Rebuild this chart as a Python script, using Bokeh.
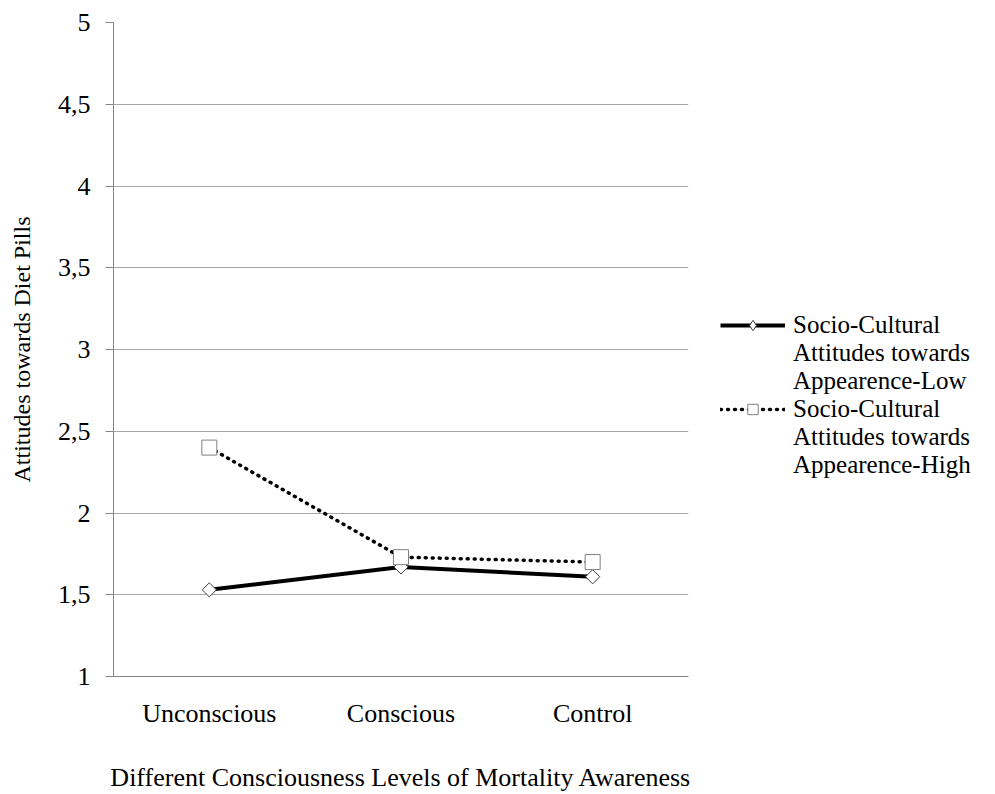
import math
from bokeh.plotting import figure
from bokeh.layouts import row
from bokeh.models import (FixedTicker, Legend, LegendItem, ColumnDataSource,
                          Range1d, FactorRange)
from bokeh.embed import file_html
from bokeh.resources import INLINE

categories = ["Unconscious", "Conscious", "Control"]
low_values = [1.53, 1.67, 1.61]
high_values = [2.40, 1.73, 1.70]
y_ticks = [1, 1.5, 2, 2.5, 3, 3.5, 4, 4.5, 5]
y_tick_labels = ["1", "1,5", "2", "2,5", "3", "3,5", "4", "4,5", "5"]
low_label_lines = ["Socio-Cultural", "Attitudes towards", "Appearence-Low"]
high_label_lines = ["Socio-Cultural", "Attitudes towards", "Appearence-High"]
x_title = "Different Consciousness Levels of Mortality Awareness"
y_title = "Attitudes towards Diet Pills"

FONT = "Liberation Serif"
FS = "26px"
AXIS_GRAY = "#868686"
GRID_GRAY = "#A6A6A6"

src = ColumnDataSource(dict(cat=categories, low=low_values, high=high_values))

# ---------------- main chart ----------------
p = figure(x_range=FactorRange(*categories), y_range=Range1d(1, 5),
           width=700, height=794, output_backend="svg", toolbar_location=None,
           min_border_left=113, min_border_right=12,
           min_border_top=22, min_border_bottom=118)
p.outline_line_color = None
p.xgrid.grid_line_color = None
p.ygrid.grid_line_color = GRID_GRAY
p.ygrid.grid_line_width = 1

yax = p.yaxis[0]
yax.ticker = FixedTicker(ticks=y_ticks)
yax.major_label_overrides = dict(zip(y_ticks, y_tick_labels))
yax.minor_tick_line_color = None
yax.major_tick_out = 8
yax.major_tick_in = 0
yax.major_tick_line_color = AXIS_GRAY
yax.axis_line_color = AXIS_GRAY
yax.major_label_standoff = 15
yax.major_label_text_font = FONT
yax.major_label_text_font_size = FS
yax.major_label_text_color = "black"
yax.axis_label = y_title
yax.axis_label_text_font = FONT
yax.axis_label_text_font_size = "24px"
yax.axis_label_text_font_style = "normal"
yax.axis_label_text_color = "black"
yax.axis_label_standoff = 20

xax = p.xaxis[0]
xax.major_tick_line_color = None
xax.major_tick_out = 0
xax.major_tick_in = 0
xax.axis_line_color = AXIS_GRAY
xax.major_label_standoff = 22
xax.major_label_text_font = FONT
xax.major_label_text_font_size = FS
xax.major_label_text_color = "black"
xax.axis_label = x_title
xax.axis_label_text_font = FONT
xax.axis_label_text_font_size = FS
xax.axis_label_text_font_style = "normal"
xax.axis_label_text_color = "black"
xax.axis_label_standoff = 32

low_style = dict(line_color="black", line_width=4)
high_style = dict(line_color="black", line_width=3.5, line_dash="1 6", line_cap="round")

p.line(x="cat", y="low", source=src, **low_style)
p.scatter(x="cat", y="low", source=src, marker="square", angle=math.pi / 4,
          size=10, fill_color="white", line_color="#404040", line_width=1)
p.line(x="cat", y="high", source=src, **high_style)
p.scatter(x="cat", y="high", source=src, marker="square",
          size=15, fill_color="white", line_color="#808080", line_width=1)

# ---------------- legend panel (to the right of the chart) ----------------
lp = figure(x_range=FactorRange(*categories), y_range=Range1d(10, 11),
            width=295, height=794, output_backend="svg", toolbar_location=None,
            min_border=0, x_axis_location=None, y_axis_location=None)
lp.outline_line_color = None
lp.grid.grid_line_color = None

l_line = lp.line(x="cat", y="low", source=src, **low_style)
l_pts = lp.scatter(x="cat", y="low", source=src, marker="diamond", size=20,
                   fill_color="white", line_color="#404040", line_width=1)
h_line = lp.line(x="cat", y="high", source=src, **high_style)
h_pts = lp.scatter(x="cat", y="high", source=src, marker="square", size=15,
                   fill_color="white", line_color="#808080", line_width=1)

items = [LegendItem(label=low_label_lines[0], renderers=[l_line, l_pts])]
items += [LegendItem(label=t, renderers=[]) for t in low_label_lines[1:]]
items += [LegendItem(label=high_label_lines[0], renderers=[h_line, h_pts])]
items += [LegendItem(label=t, renderers=[]) for t in high_label_lines[1:]]

legend = Legend(items=items, location=(20, 197), padding=0, margin=0, spacing=0,
                glyph_width=65, glyph_height=26, label_height=20, label_standoff=8,
                border_line_color=None, background_fill_alpha=0,
                label_text_font=FONT, label_text_font_size="25px",
                label_text_color="black")
lp.add_layout(legend)

layout = row(p, lp, spacing=0)
open("out.html", "w").write(file_html(layout, INLINE))
